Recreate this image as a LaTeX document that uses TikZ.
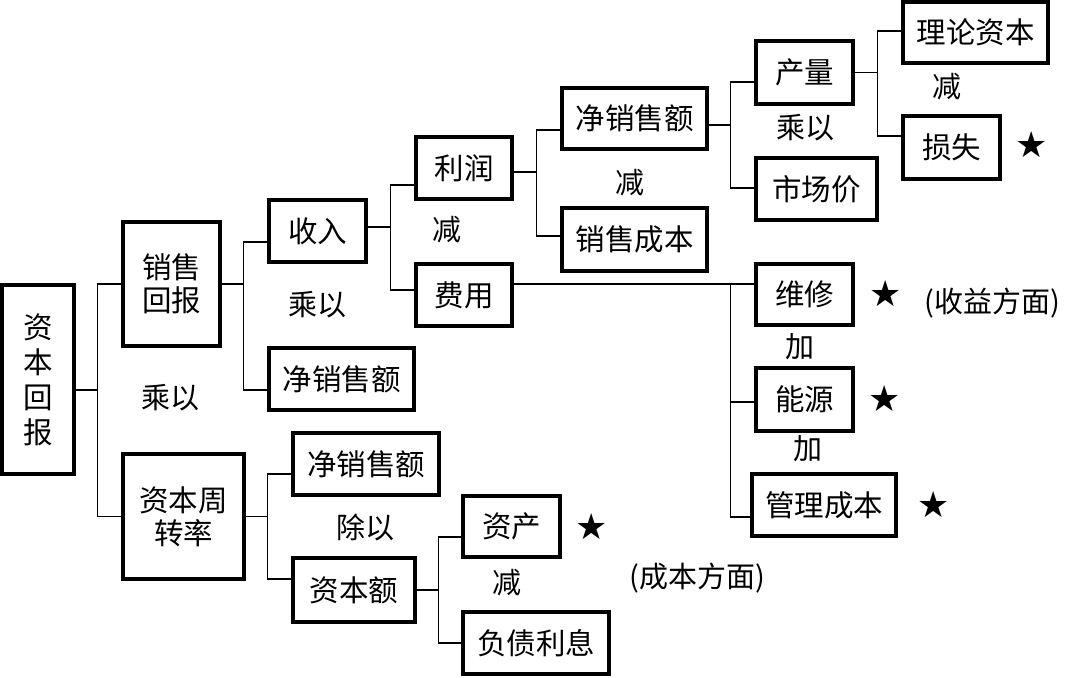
\documentclass[tikz,border=0pt]{standalone}
\usepackage{fontspec}
\newfontfamily\cjk{Noto Sans CJK SC}
\newfontfamily\symf{DejaVu Sans}
\begin{document}
\begin{tikzpicture}[x=1pt,y=-1pt,
  box/.style={draw, line width=3.2pt, inner sep=0pt, align=center,
    font=\cjk\fontsize{29.5}{33}\selectfont},
  lab/.style={inner sep=0pt, font=\cjk\fontsize{29}{33}\selectfont},
  star/.style={inner sep=0pt, font=\symf\fontsize{36}{40}\selectfont},
  link/.style={line width=1.5pt}]
\useasboundingbox (0,0) rectangle (1065,677);
% boxes
\node[box, minimum width=72pt, minimum height=189pt, font=\cjk\fontsize{29.5}{35}\selectfont] (zbhb) at (38,379.5) {资\\本\\回\\报};
\node[box, minimum width=97pt, minimum height=124pt] (xshb) at (171.5,284) {销售\\回报};
\node[box, minimum width=121pt, minimum height=125pt] (zbzzl) at (183.5,516.5) {资本周\\转率};
\node[box, minimum width=97pt, minimum height=62pt] (sr) at (317.5,231) {收入};
\node[box, minimum width=145pt, minimum height=62pt] (jx1) at (341.5,379) {净销售额};
\node[box, minimum width=146pt, minimum height=62pt] (jx2) at (366,464) {净销售额};
\node[box, minimum width=122pt, minimum height=64pt] (zbe) at (354,590) {资本额};
\node[box, minimum width=96pt, minimum height=62pt] (lr) at (464,168) {利润};
\node[box, minimum width=96pt, minimum height=62pt] (fy) at (464,295) {费用};
\node[box, minimum width=145pt, minimum height=61pt] (jx3) at (634.5,118.5) {净销售额};
\node[box, minimum width=145pt, minimum height=63pt] (xscb) at (634.5,239.5) {销售成本};
\node[box, minimum width=97pt, minimum height=63pt] (cl) at (804.5,72.5) {产量};
\node[box, minimum width=121pt, minimum height=62pt] (scj) at (816.5,189) {市场价};
\node[box, minimum width=145pt, minimum height=61pt] (llzb) at (975.5,32.5) {理论资本};
\node[box, minimum width=97pt, minimum height=63pt] (ss) at (951.5,147.5) {损失};
\node[box, minimum width=97pt, minimum height=61pt] (wx) at (804.5,294.5) {维修};
\node[box, minimum width=97pt, minimum height=63pt] (ny) at (804.5,399.5) {能源};
\node[box, minimum width=144pt, minimum height=62pt] (glcb) at (824,505) {管理成本};
\node[box, minimum width=97pt, minimum height=61pt] (zc) at (511.5,526.5) {资产};
\node[box, minimum width=146pt, minimum height=62pt] (fzlx) at (536,643) {负债利息};
% connectors
\draw[link] (xshb.west) -- ++(-24,0) |- ([yshift=-10.5pt]zbhb.east);
\draw[link] (zbzzl.west) -- ++(-24,0) |- ([yshift=-10.5pt]zbhb.east);
\draw[link] ([yshift=-11pt]sr.west) -- ++(-24,0) |- (xshb.east);
\draw[link] ([yshift=-11pt]jx1.west) -- ++(-24,0) |- (xshb.east);
\draw[link] ([yshift=-10pt]jx2.west) -- ++(-24,0) |- (zbzzl.east);
\draw[link] ([yshift=11pt]zbe.west) -- ++(-24,0) |- (zbzzl.east);
\draw[link] ([yshift=-17pt]lr.west) -- ++(-24,0) |- ([yshift=4pt]sr.east);
\draw[link] ([yshift=5pt]fy.west) -- ++(-24,0) |- ([yshift=4pt]sr.east);
\draw[link] ([yshift=-11.5pt]jx3.west) -- ++(-24,0) |- ([yshift=-4pt]lr.east);
\draw[link] ([yshift=3.5pt]xscb.west) -- ++(-24,0) |- ([yshift=-4pt]lr.east);
\draw[link] ([yshift=-9.5pt]cl.west) -- ++(-24,0) |- ([yshift=-6.5pt]jx3.east);
\draw[link] ([yshift=1pt]scj.west) -- ++(-24,0) |- ([yshift=-6.5pt]jx3.east);
\draw[link] ([yshift=1.5pt]llzb.west) -- ++(-24,0) |- (cl.east);
\draw[link] ([yshift=11.5pt]ss.west) -- ++(-24,0) |- (cl.east);
\draw[link] ([yshift=10.5pt]wx.west) -- ++(-24,0) |- ([yshift=11pt]fy.east);
\draw[link] ([yshift=-2.5pt]ny.west) -- ++(-24,0) |- ([yshift=11pt]fy.east);
\draw[link] ([yshift=-12pt]glcb.west) -- ++(-20,0) |- ([yshift=11pt]fy.east);
\draw[link] ([yshift=-10.5pt]zc.west) -- ++(-23,0) |- (zbe.east);
\draw[link] (fzlx.west) -- ++(-23,0) |- (zbe.east);
% labels
\node[lab] (l1) at (170,398) {乘以};
\node[lab] (l2) at (317,305) {乘以};
\node[lab] (l3) at (365,527) {除以};
\node[lab] (l4) at (447,230) {减};
\node[lab] (l5) at (630,183) {减};
\node[lab] (l6) at (805,128) {乘以};
\node[lab] (l7) at (947,87) {减};
\node[lab] (l8) at (800,347) {加};
\node[lab] (l9) at (808,449) {加};
\node[lab] (l10) at (507,583) {减};
\node[lab] (n1) at (992,303) {(收益方面)};
\node[lab] (n2) at (697,578) {(成本方面)};
% stars
\node[star] (s1) at (1032,145) {★};
\node[star] (s2) at (886,294) {★};
\node[star] (s3) at (885,399) {★};
\node[star] (s4) at (934,505) {★};
\node[star] (s5) at (592,527) {★};
\end{tikzpicture}
\end{document}
